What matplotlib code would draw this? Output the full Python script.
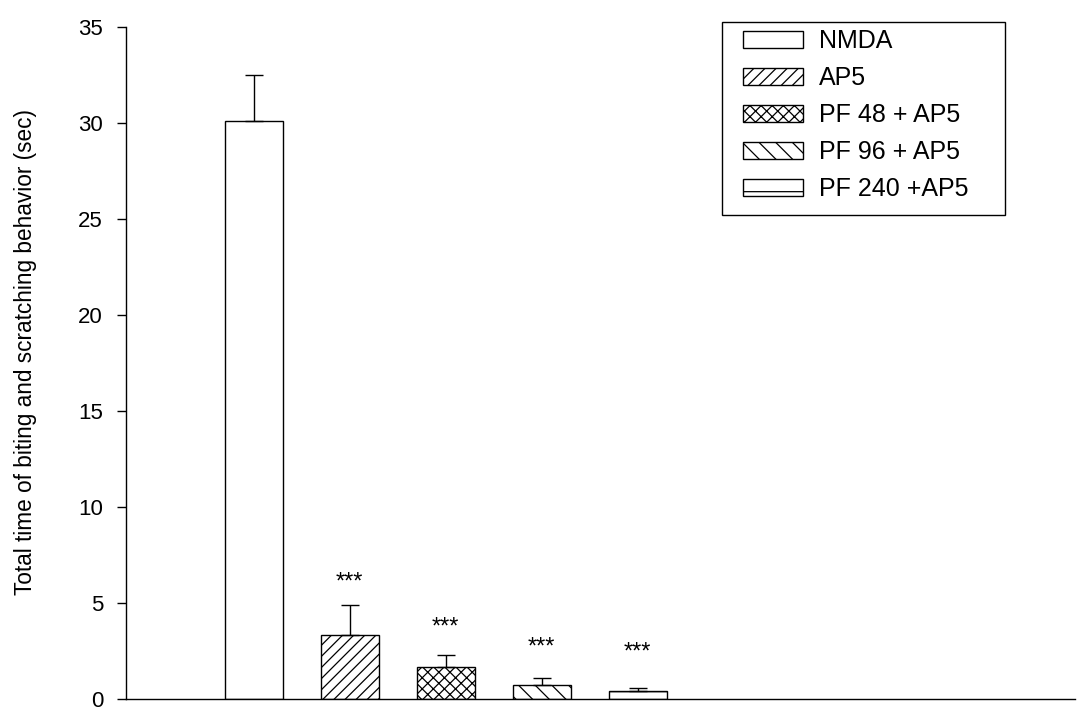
import matplotlib
matplotlib.use("Agg")
import matplotlib.pyplot as plt
from matplotlib.patches import Patch, Rectangle

# ---- data ----
groups = ["NMDA", "AP5", "PF 48 + AP5", "PF 96 + AP5", "PF 240 +AP5"]
means = [30.1, 3.33, 1.67, 0.75, 0.40]
sem = [2.4, 1.57, 0.62, 0.35, 0.18]
sig_labels = ["", "***", "***", "***", "***"]
sig_y = [None, 6.05, 3.7, 2.7, 2.4]
hatches = ["", "///", "xxx", "\\\\", "-"]
y_ticks = [0, 5, 10, 15, 20, 25, 30, 35]
y_label = "Total time of biting and scratching behavior (sec)"

plt.rcParams["font.family"] = ["Liberation Sans", "DejaVu Sans"]
plt.rcParams["hatch.linewidth"] = 0.9
plt.rcParams["hatch.color"] = "black"

W, H = 1078, 710
fig = plt.figure(figsize=(W / 100, H / 100), dpi=100)
ax = fig.add_axes([126 / W, 11 / H, (1075 - 126) / W, (699 - 27) / H])

x = list(range(len(groups)))
width = 0.604
ax.bar(x, means, width=width, color="white", edgecolor="black", linewidth=1.0,
       hatch=hatches, zorder=2)
ax.errorbar(x, means, yerr=[[0] * len(sem), sem], fmt="none", ecolor="black",
            elinewidth=1.0, capsize=6.8, capthick=1.0, zorder=3)

for xi, lab, yy in zip(x, sig_labels, sig_y):
    if lab:
        ax.text(xi, yy, lab, ha="center", va="center", fontsize=17)

ax.set_xlim(-1.330, 8.555)
ax.set_ylim(0, 35)
ax.set_yticks(y_ticks)
ax.set_yticklabels([str(t) for t in y_ticks], fontsize=16)
ax.set_xticks([])
ax.tick_params(axis="y", direction="out", length=6.5, width=1, pad=10)
ax.spines["top"].set_visible(False)
ax.spines["right"].set_visible(False)
ax.spines["left"].set_linewidth(1.0)
ax.spines["bottom"].set_linewidth(1.0)
ax.set_ylabel(y_label, fontsize=16.3)
ax.yaxis.set_label_coords((37 - 126) / 949, (699 - 352) / 672)

# legend box (frame drawn separately to match the reference proportions)
fig.patches.append(Rectangle((722 / W, 1 - 215 / H), (1005 - 722) / W, (215 - 22) / H,
                             transform=fig.transFigure, facecolor="white",
                             edgecolor="black", linewidth=1.0, zorder=4))
handles = [Patch(facecolor="white", edgecolor="black", hatch=h, linewidth=1.0)
           for h in hatches]
leg = fig.legend(handles, groups, loc="upper left",
                 bbox_to_anchor=(743 / W, 1 - 29 / H),
                 fontsize=18, frameon=False,
                 handlelength=2.4, handleheight=0.68,
                 labelspacing=0.52, handletextpad=0.65, borderpad=0,
                 borderaxespad=0)
leg.set_zorder(5)

fig.savefig("out.png", dpi=100)
